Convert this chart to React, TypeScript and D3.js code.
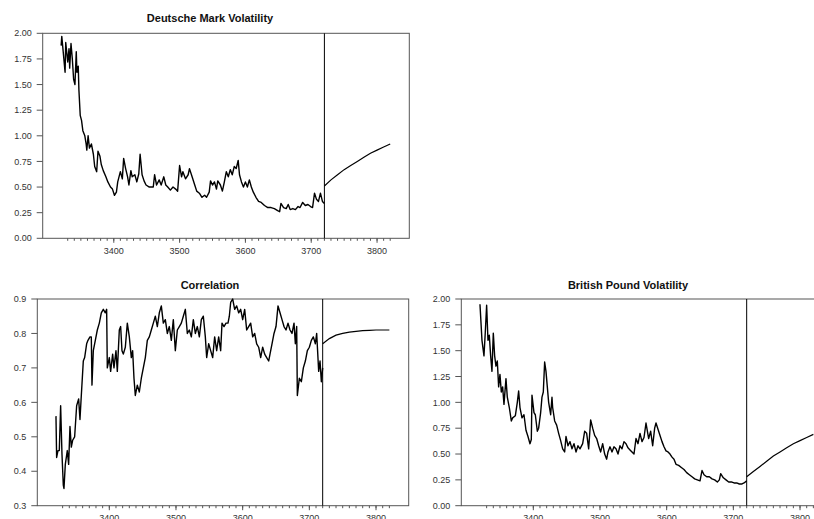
import React from 'react';
import * as d3 from 'd3';

type Pt = [number, number];

const X_DOMAIN = [3292, 3849];
const X_MAJOR = [3400, 3500, 3600, 3700, 3800];
const X_MINOR = d3.range(3330, 3821, 10);
const FORECAST_START = 3720;

const VOL_TICKS = [0, 0.25, 0.5, 0.75, 1, 1.25, 1.5, 1.75, 2];
const CORR_TICKS = [0.3, 0.4, 0.5, 0.6, 0.7, 0.8, 0.9];

const dmHist: Pt[] = [
    [3320, 1.88], [3321, 1.97], [3326, 1.62], [3327, 1.91], [3330, 1.72], [3332, 1.85], [3333, 1.66],
    [3335, 1.9], [3337, 1.75], [3339, 1.55], [3341, 1.5], [3343, 1.82], [3344, 1.62], [3346, 1.68],
    [3347, 1.45], [3349, 1.2], [3351, 1.15], [3353, 1.05], [3356, 1.0], [3358, 0.92], [3359, 0.86],
    [3361, 1.0], [3363, 0.88], [3366, 0.92], [3369, 0.82], [3371, 0.7], [3374, 0.65], [3376, 0.85],
    [3379, 0.8], [3381, 0.72], [3384, 0.66], [3388, 0.6], [3391, 0.55], [3395, 0.5], [3398, 0.48],
    [3401, 0.42], [3404, 0.45], [3406, 0.55], [3410, 0.65], [3413, 0.58], [3415, 0.78], [3418, 0.68],
    [3421, 0.6], [3423, 0.52], [3426, 0.66], [3428, 0.6], [3432, 0.62], [3435, 0.55], [3438, 0.63],
    [3440, 0.82], [3443, 0.62], [3446, 0.56], [3449, 0.52], [3454, 0.5], [3460, 0.5], [3462, 0.62],
    [3465, 0.52], [3469, 0.57], [3472, 0.52], [3476, 0.6], [3479, 0.52], [3482, 0.5], [3486, 0.47],
    [3490, 0.5], [3494, 0.48], [3497, 0.46], [3500, 0.71], [3503, 0.6], [3505, 0.65], [3509, 0.58],
    [3513, 0.62], [3515, 0.68], [3519, 0.6], [3523, 0.52], [3526, 0.46], [3530, 0.44], [3534, 0.4],
    [3538, 0.42], [3541, 0.4], [3545, 0.45], [3547, 0.56], [3550, 0.52], [3553, 0.55], [3556, 0.48],
    [3558, 0.56], [3562, 0.52], [3565, 0.46], [3568, 0.55], [3571, 0.65], [3574, 0.6], [3577, 0.67],
    [3580, 0.62], [3583, 0.7], [3586, 0.68], [3589, 0.76], [3591, 0.62], [3594, 0.55], [3597, 0.5],
    [3600, 0.55], [3603, 0.5], [3606, 0.57], [3609, 0.5], [3612, 0.45], [3616, 0.4], [3620, 0.36],
    [3624, 0.35], [3629, 0.32], [3634, 0.3], [3639, 0.3], [3644, 0.29], [3649, 0.27], [3652, 0.26],
    [3654, 0.34], [3658, 0.3], [3662, 0.29], [3665, 0.33], [3668, 0.28], [3672, 0.29], [3676, 0.28],
    [3680, 0.31], [3683, 0.3], [3687, 0.35], [3691, 0.32], [3695, 0.33], [3699, 0.31], [3702, 0.3],
    [3705, 0.44], [3708, 0.38], [3711, 0.36], [3714, 0.44], [3717, 0.36], [3720, 0.34]
];
const dmFcst: Pt[] = [
    [3720, 0.51], [3730, 0.57], [3740, 0.62], [3750, 0.67], [3760, 0.71], [3770, 0.75],
    [3780, 0.79], [3790, 0.83], [3800, 0.86], [3810, 0.89], [3820, 0.92]
];

const corrHist: Pt[] = [
    [3320, 0.56], [3321, 0.44], [3323, 0.46], [3325, 0.46], [3327, 0.59], [3329, 0.45], [3331, 0.36],
    [3332, 0.35], [3334, 0.42], [3337, 0.46], [3339, 0.42], [3341, 0.53], [3343, 0.47], [3345, 0.49],
    [3348, 0.5], [3351, 0.59], [3354, 0.61], [3356, 0.55], [3358, 0.62], [3361, 0.72], [3363, 0.73],
    [3366, 0.77], [3368, 0.78], [3371, 0.79], [3373, 0.79], [3374, 0.65], [3376, 0.75], [3379, 0.78],
    [3382, 0.81], [3385, 0.83], [3388, 0.86], [3391, 0.87], [3394, 0.86], [3396, 0.87], [3397, 0.7],
    [3400, 0.73], [3402, 0.69], [3405, 0.74], [3407, 0.7], [3410, 0.75], [3412, 0.69], [3415, 0.81],
    [3417, 0.82], [3419, 0.75], [3421, 0.74], [3424, 0.76], [3427, 0.83], [3430, 0.79], [3433, 0.73],
    [3435, 0.75], [3437, 0.67], [3439, 0.62], [3442, 0.65], [3445, 0.63], [3448, 0.67], [3451, 0.7],
    [3454, 0.73], [3457, 0.78], [3460, 0.79], [3463, 0.81], [3466, 0.83], [3469, 0.85], [3472, 0.82],
    [3475, 0.86], [3478, 0.88], [3481, 0.83], [3484, 0.84], [3487, 0.8], [3490, 0.82], [3493, 0.78],
    [3496, 0.84], [3499, 0.75], [3502, 0.81], [3505, 0.82], [3508, 0.83], [3511, 0.85], [3514, 0.87],
    [3517, 0.8], [3520, 0.81], [3523, 0.79], [3526, 0.84], [3529, 0.8], [3532, 0.82], [3535, 0.79],
    [3538, 0.84], [3541, 0.85], [3544, 0.79], [3546, 0.73], [3549, 0.77], [3552, 0.75], [3555, 0.73],
    [3558, 0.79], [3561, 0.75], [3564, 0.79], [3567, 0.75], [3569, 0.83], [3572, 0.82], [3575, 0.83],
    [3578, 0.83], [3580, 0.85], [3582, 0.89], [3585, 0.9], [3588, 0.87], [3591, 0.88], [3594, 0.86],
    [3597, 0.87], [3600, 0.84], [3603, 0.87], [3606, 0.81], [3609, 0.82], [3612, 0.83], [3615, 0.79],
    [3618, 0.8], [3621, 0.77], [3624, 0.76], [3627, 0.73], [3630, 0.76], [3633, 0.74], [3636, 0.73],
    [3639, 0.72], [3641, 0.74], [3644, 0.77], [3647, 0.8], [3650, 0.82], [3653, 0.88], [3656, 0.86],
    [3659, 0.84], [3662, 0.82], [3665, 0.81], [3668, 0.83], [3671, 0.81], [3674, 0.8], [3677, 0.83],
    [3679, 0.77], [3681, 0.82], [3682, 0.62], [3685, 0.67], [3688, 0.66], [3691, 0.7], [3694, 0.72],
    [3697, 0.75], [3700, 0.76], [3703, 0.78], [3706, 0.79], [3709, 0.77], [3711, 0.8], [3714, 0.69],
    [3716, 0.72], [3718, 0.66], [3720, 0.7]
];
const corrFcst: Pt[] = [
    [3720, 0.77], [3730, 0.785], [3740, 0.795], [3750, 0.8], [3760, 0.804], [3770, 0.806],
    [3780, 0.808], [3790, 0.809], [3800, 0.81], [3810, 0.81], [3820, 0.81]
];

const bpHist: Pt[] = [
    [3320, 1.95], [3323, 1.6], [3326, 1.45], [3328, 1.68], [3330, 1.94], [3332, 1.6], [3334, 1.65],
    [3336, 1.45], [3338, 1.3], [3340, 1.67], [3342, 1.45], [3344, 1.35], [3346, 1.4], [3348, 1.15],
    [3350, 1.27], [3352, 1.1], [3354, 1.15], [3356, 0.98], [3359, 1.23], [3361, 1.05], [3364, 0.95],
    [3367, 0.82], [3369, 0.85], [3373, 0.87], [3376, 1.0], [3378, 1.11], [3380, 0.95], [3383, 0.85],
    [3386, 0.88], [3389, 0.73], [3392, 0.67], [3395, 0.6], [3397, 0.64], [3398, 1.07], [3401, 0.9],
    [3403, 0.88], [3406, 0.72], [3408, 0.75], [3411, 0.9], [3413, 1.05], [3415, 1.1], [3417, 1.39],
    [3419, 1.3], [3421, 1.15], [3423, 1.0], [3426, 0.88], [3428, 1.05], [3429, 0.95], [3432, 0.82],
    [3435, 0.78], [3438, 0.7], [3441, 0.63], [3444, 0.55], [3447, 0.52], [3449, 0.67], [3452, 0.58],
    [3455, 0.62], [3458, 0.55], [3461, 0.6], [3464, 0.52], [3467, 0.58], [3470, 0.55], [3474, 0.6],
    [3477, 0.72], [3480, 0.7], [3483, 0.55], [3486, 0.83], [3489, 0.75], [3492, 0.68], [3495, 0.65],
    [3498, 0.58], [3501, 0.52], [3504, 0.6], [3507, 0.5], [3510, 0.45], [3512, 0.52], [3515, 0.57],
    [3518, 0.52], [3521, 0.57], [3524, 0.55], [3527, 0.5], [3530, 0.58], [3533, 0.55], [3536, 0.62],
    [3539, 0.6], [3542, 0.56], [3545, 0.54], [3548, 0.52], [3551, 0.5], [3554, 0.65], [3557, 0.6],
    [3560, 0.7], [3563, 0.62], [3566, 0.66], [3569, 0.8], [3573, 0.65], [3576, 0.72], [3579, 0.58],
    [3582, 0.75], [3584, 0.8], [3587, 0.74], [3590, 0.68], [3593, 0.62], [3596, 0.57], [3599, 0.53],
    [3602, 0.52], [3605, 0.5], [3608, 0.47], [3611, 0.45], [3614, 0.4], [3618, 0.39], [3622, 0.37],
    [3626, 0.35], [3630, 0.32], [3634, 0.3], [3638, 0.28], [3642, 0.26], [3646, 0.25], [3650, 0.24],
    [3653, 0.34], [3656, 0.3], [3660, 0.28], [3664, 0.28], [3668, 0.26], [3672, 0.25], [3676, 0.23],
    [3679, 0.25], [3681, 0.31], [3685, 0.27], [3689, 0.25], [3693, 0.23], [3697, 0.23], [3701, 0.22],
    [3705, 0.22], [3709, 0.21], [3713, 0.21], [3716, 0.22], [3720, 0.24]
];
const bpFcst: Pt[] = [
    [3720, 0.28], [3730, 0.33], [3740, 0.38], [3750, 0.43], [3760, 0.48], [3770, 0.52],
    [3780, 0.56], [3790, 0.6], [3800, 0.63], [3810, 0.66], [3820, 0.69]
];

const FONT = '"Liberation Sans", Arial, Helvetica, sans-serif';
const AXIS_COLOR = '#555';

function Panel({ title, titleX, titleY, box, yDomain, yTicks, yFmt, hist, fcst }) {
    const x = d3.scaleLinear().domain(X_DOMAIN).range([box.left, box.right]);
    const y = d3.scaleLinear().domain(yDomain).range([box.bottom, box.top]);
    const line = d3.line<Pt>().x(d => x(d[0])).y(d => y(d[1]));
    const fmt = d3.format(yFmt);

    return (
        <g>
            <text x={titleX} y={titleY} textAnchor='middle' fontFamily={FONT}
                fontSize={11} fontWeight='bold' fill='#111'>{title}</text>
            <rect x={box.left} y={box.top} width={box.right - box.left} height={box.bottom - box.top}
                fill='none' stroke={AXIS_COLOR} strokeWidth={1} />
            {yTicks.map(t => (
                <g key={'y' + t}>
                    <line x1={box.left - 6} x2={box.left} y1={y(t)} y2={y(t)} stroke={AXIS_COLOR} />
                    <text x={box.left - 11} y={y(t)} dy='0.35em' textAnchor='end' fontFamily={FONT}
                        fontSize={9} fill='#333'>{fmt(t)}</text>
                </g>
            ))}
            {X_MINOR.map(t => (
                <line key={'m' + t} x1={x(t)} x2={x(t)} y1={box.bottom} y2={box.bottom + 2.5}
                    stroke={AXIS_COLOR} />
            ))}
            {X_MAJOR.map(t => (
                <g key={'x' + t}>
                    <line x1={x(t)} x2={x(t)} y1={box.bottom} y2={box.bottom + 4.5} stroke={AXIS_COLOR} />
                    <text x={x(t)} y={box.bottom + 15.5} textAnchor='middle' fontFamily={FONT}
                        fontSize={9} fill='#333'>{t}</text>
                </g>
            ))}
            <line x1={x(FORECAST_START)} x2={x(FORECAST_START)} y1={box.top} y2={box.bottom}
                stroke='#000' strokeWidth={1} />
            <path d={line(hist)} fill='none' stroke='#000' strokeWidth={1.4} strokeLinejoin='round' />
            <path d={line(fcst)} fill='none' stroke='#000' strokeWidth={1.2} />
        </g>
    );
}

export default function App() {
    return (
        <svg width={814} height={519} style={{ position: 'absolute', left: 0, top: 0, background: '#fff' }}>
            <Panel title='Deutsche Mark Volatility' titleX={210} titleY={22}
                box={{ left: 42.7, right: 409.3, top: 33.3, bottom: 238.3 }}
                yDomain={[0, 2]} yTicks={VOL_TICKS} yFmt='.2f' hist={dmHist} fcst={dmFcst} />
            <Panel title='Correlation' titleX={210} titleY={289}
                box={{ left: 37.3, right: 408.7, top: 299, bottom: 505.7 }}
                yDomain={[0.3, 0.9]} yTicks={CORR_TICKS} yFmt='.1f' hist={corrHist} fcst={corrFcst} />
            <Panel title='British Pound Volatility' titleX={628} titleY={289}
                box={{ left: 461.3, right: 832.7, top: 299, bottom: 505.7 }}
                yDomain={[0, 2]} yTicks={VOL_TICKS} yFmt='.2f' hist={bpHist} fcst={bpFcst} />
        </svg>
    );
}
